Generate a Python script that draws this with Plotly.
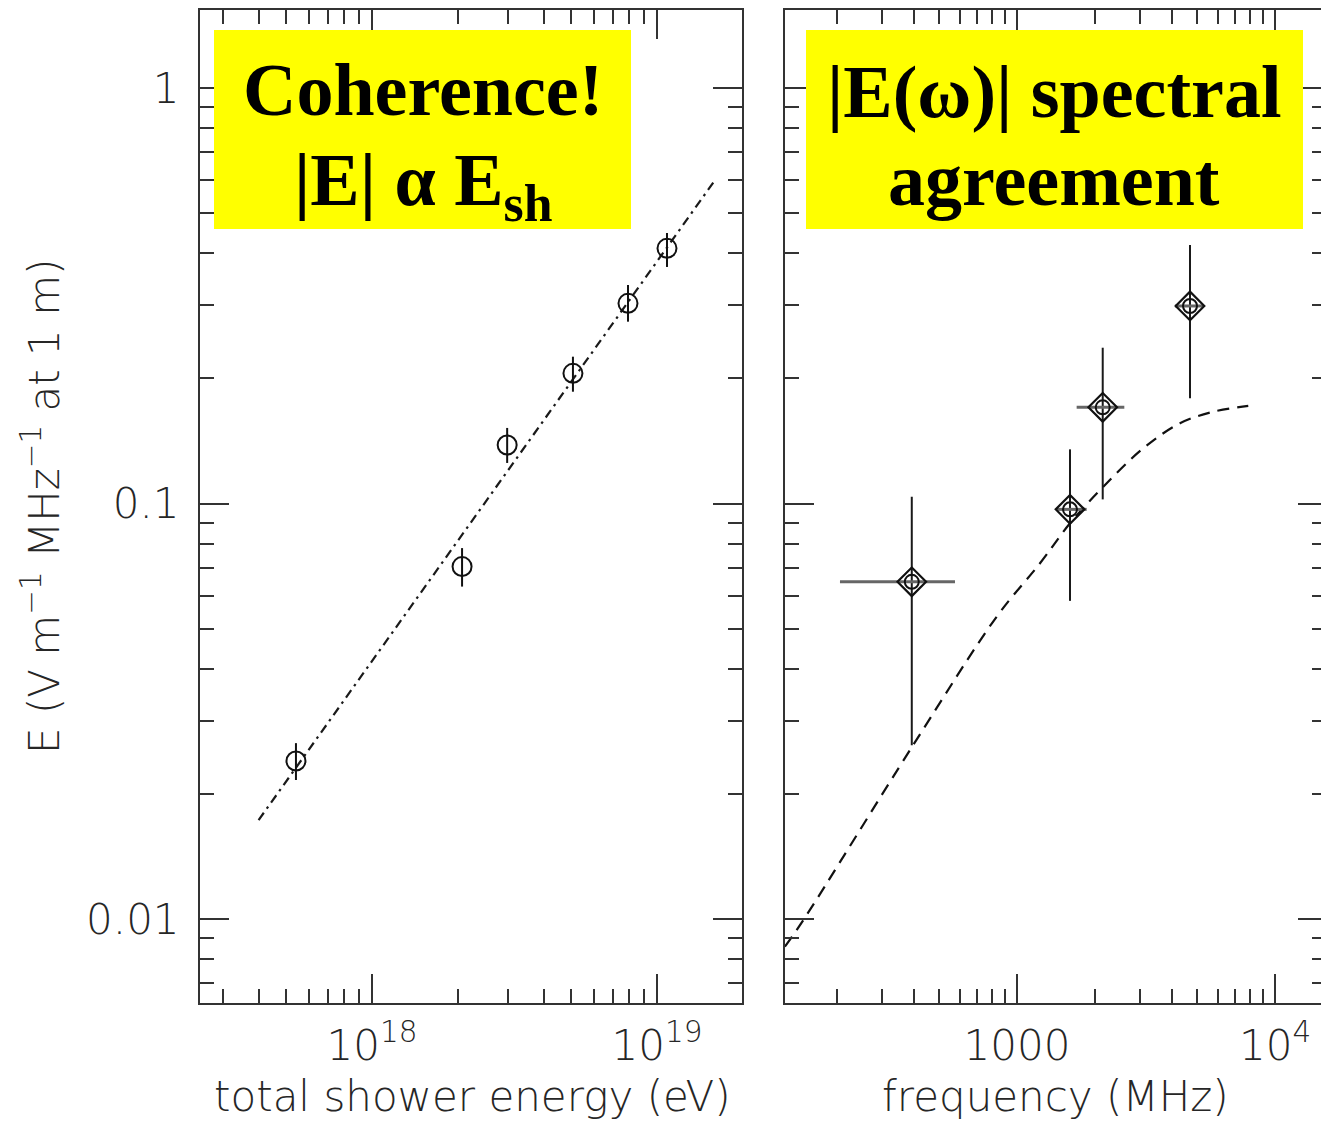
import plotly.graph_objects as go

# ---- data -------------------------------------------------------------
# Left panel: pulse field strength vs. total shower energy
shower_energy_eV = [5.41e17, 2.07e18, 2.98e18, 5.07e18, 7.91e18, 1.084e19]
field_E = [0.0240, 0.0705, 0.1383, 0.2057, 0.3032, 0.4113]
field_E_hi = [0.0265, 0.0781, 0.1520, 0.2256, 0.3357, 0.4477]
field_E_lo = [0.0216, 0.0631, 0.1252, 0.1858, 0.2739, 0.3709]

# Linear-scaling fit (E proportional to shower energy)
fit_energy_eV = [4.0e17, 1.6e19]
fit_E = [0.0173, 0.601]

# Right panel: spectral field strength vs. frequency
freq_MHz = [391, 1605, 2149, 4683]
freq_lo = [206, 1416, 1703, 4094]
freq_hi = [575, 1862, 2606, 5271]
spec_E = [0.0648, 0.0968, 0.1704, 0.2988]
spec_E_hi = [0.1038, 0.1350, 0.2371, 0.4188]
spec_E_lo = [0.0262, 0.0583, 0.1023, 0.1792]

# Model spectrum
model_freq_MHz = [126, 148.5, 396, 834, 1228, 1605, 2160, 3087, 4283, 5767, 7877]
model_E = [0.00858, 0.00994, 0.02623, 0.0534, 0.0718, 0.0896, 0.1097, 0.1358,
           0.156, 0.1663, 0.1717]

# Tick positions and labels
energy_major = [1e18, 1e19]
energy_major_text = ["10<sup>18</sup>", "10<sup>19</sup>"]
energy_minor = [k * 1e17 for k in range(3, 10)] + [k * 1e18 for k in range(2, 10)] + [k * 1e19 for k in range(1, 2)]
freq_major = [1000, 10000]
freq_major_text = ["1000", "10<sup>4</sup>"]
freq_minor = [k * 100 for k in range(2, 10)] + [k * 1000 for k in range(2, 10)]
e_major = [0.01, 0.1, 1]
e_major_text = ["0.01", "0.1", "1"]
e_minor = [k * 0.001 for k in range(7, 10)] + [k * 0.01 for k in range(2, 10)] + [k * 0.1 for k in range(2, 10)]

# ---- geometry helpers ---------------------------------------------------
W, H = 1321, 1123


def px(x):
    return x / W


def py(y):
    return 1 - y / H


INK = "#333333"
TEXT_INK = "#262626"
TICKFONT = dict(family="DejaVu Sans", size=42, color=TEXT_INK, weight=300)

fig = go.Figure()

# left panel
fig.add_trace(go.Scatter(
    x=fit_energy_eV, y=fit_E, mode="lines",
    line=dict(color="#1a1a1a", width=2.2, dash="9px,5px,2.5px,5px"),
    xaxis="x", yaxis="y", hoverinfo="skip"))
fig.add_trace(go.Scatter(
    x=shower_energy_eV, y=field_E, mode="markers",
    marker=dict(symbol="circle-open", size=19, color="#111111", line=dict(width=2)),
    error_y=dict(type="data", symmetric=False,
                 array=[h - v for h, v in zip(field_E_hi, field_E)],
                 arrayminus=[v - l for v, l in zip(field_E, field_E_lo)],
                 width=0, thickness=2, color="#111111"),
    xaxis="x", yaxis="y"))

# right panel
fig.add_trace(go.Scatter(
    x=model_freq_MHz, y=model_E, mode="lines", line_shape="spline",
    line=dict(color="#111111", width=2.2, dash="12px,8px"),
    xaxis="x2", yaxis="y2", hoverinfo="skip"))
fig.add_trace(go.Scatter(
    x=freq_MHz, y=spec_E, mode="markers",
    marker=dict(symbol="circle-open", size=14, color="#111111", line=dict(width=2)),
    error_y=dict(type="data", symmetric=False,
                 array=[h - v for h, v in zip(spec_E_hi, spec_E)],
                 arrayminus=[v - l for v, l in zip(spec_E, spec_E_lo)],
                 width=0, thickness=2, color="#1a1a1a"),
    error_x=dict(type="data", symmetric=False,
                 array=[h - v for h, v in zip(freq_hi, freq_MHz)],
                 arrayminus=[v - l for v, l in zip(freq_MHz, freq_lo)],
                 width=0, thickness=3, color="#666666"),
    xaxis="x2", yaxis="y2"))
fig.add_trace(go.Scatter(
    x=freq_MHz, y=spec_E, mode="markers",
    marker=dict(symbol="diamond-open", size=22, color="#111111", line=dict(width=2.2)),
    xaxis="x2", yaxis="y2", hoverinfo="skip"))
# carrier for the right-hand tick column of the right panel
fig.add_trace(go.Scatter(x=[], y=[], xaxis="x2", yaxis="y3", hoverinfo="skip"))

axis_common = dict(
    type="log", showgrid=False, zeroline=False,
    showline=True, linewidth=2, linecolor=INK,
    ticks="inside", ticklen=29, tickwidth=2, tickcolor=INK,
    tickmode="array", tickfont=TICKFONT,
)

Y_RANGE = [-2.20289, 0.18893]
Y_DOMAIN = [py(1003.3), py(9.5)]

fig.update_layout(
    width=W, height=H,
    margin=dict(l=0, r=0, t=0, b=0),
    paper_bgcolor="white", plot_bgcolor="white",
    showlegend=False,
    xaxis=dict(**axis_common, domain=[px(200), px(742)], range=[17.3965, 19.2982],
               anchor="y", mirror="ticks",
               tickvals=energy_major, ticktext=energy_major_text, ticklabelstandoff=4,
               minor=dict(ticks="inside", ticklen=14, tickwidth=2, tickcolor=INK,
                          tickmode="array", tickvals=energy_minor, showgrid=False)),
    yaxis=dict(**axis_common, domain=Y_DOMAIN, range=Y_RANGE, anchor="x", mirror="ticks",
               tickvals=e_major, ticktext=e_major_text, ticklabelstandoff=10,
               minor=dict(ticks="inside", ticklen=14, tickwidth=2, tickcolor=INK,
                          tickmode="array", tickvals=e_minor, showgrid=False)),
    xaxis2=dict(**axis_common, domain=[px(784.5), 1.0], range=[2.09884, 4.17829],
                anchor="y2", mirror="ticks",
                tickvals=freq_major, ticktext=freq_major_text, ticklabelstandoff=4,
                minor=dict(ticks="inside", ticklen=14, tickwidth=2, tickcolor=INK,
                           tickmode="array", tickvals=freq_minor, showgrid=False)),
    yaxis2=dict(**axis_common, domain=Y_DOMAIN, range=Y_RANGE, anchor="x2", mirror=False,
                tickvals=e_major, showticklabels=False,
                minor=dict(ticks="inside", ticklen=14, tickwidth=2, tickcolor=INK,
                           tickmode="array", tickvals=e_minor, showgrid=False)),
    yaxis3=dict(type="log", range=Y_RANGE, overlaying="y2", side="right", anchor="x2",
                showgrid=False, zeroline=False, showline=False, showticklabels=False,
                ticks="inside", ticklen=23, tickwidth=2, tickcolor=INK,
                tickmode="array", tickvals=e_major,
                minor=dict(ticks="inside", ticklen=9, tickwidth=2, tickcolor=INK,
                           tickmode="array", tickvals=e_minor, showgrid=False)),
)

# yellow caption boxes
for x0, x1 in [(214, 631), (806, 1303)]:
    fig.add_shape(type="rect", xref="paper", yref="paper",
                  x0=px(x0), x1=px(x1), y0=py(229), y1=py(30),
                  fillcolor="#FFFF00", line=dict(width=0), layer="above")

CAPTION = dict(family="Liberation Serif, Times New Roman, serif", size=74, color="black")
captions = [
    ("<b>Coherence!</b>", 423, 90),
    ("<b>|E| α E<sub>sh</sub></b>", 423, 186),
    ("<b>|E(ω)| spectral</b>", 1054, 92),
    ("<b>agreement</b>", 1054, 180),
]
for text, cx, cy in captions:
    fig.add_annotation(text=text, xref="paper", yref="paper", x=px(cx), y=py(cy),
                       xanchor="center", yanchor="middle", showarrow=False, font=CAPTION)

# axis titles
TITLEFONT = dict(family="DejaVu Sans", size=42, color=TEXT_INK, weight=300)
fig.add_annotation(text="total shower energy (eV)", xref="paper", yref="paper",
                   x=px(472), y=py(1096), xanchor="center", yanchor="middle",
                   showarrow=False, font=TITLEFONT)
fig.add_annotation(text="frequency (MHz)", xref="paper", yref="paper",
                   x=px(1055), y=py(1096), xanchor="center", yanchor="middle",
                   showarrow=False, font=TITLEFONT)
fig.add_annotation(text="E (V m<sup>−1</sup> MHz<sup>−1</sup> at 1 m)", xref="paper", yref="paper",
                   x=px(42), y=py(507), xanchor="center", yanchor="middle", textangle=-90,
                   showarrow=False, font=TITLEFONT)

fig.write_html("out.html")
